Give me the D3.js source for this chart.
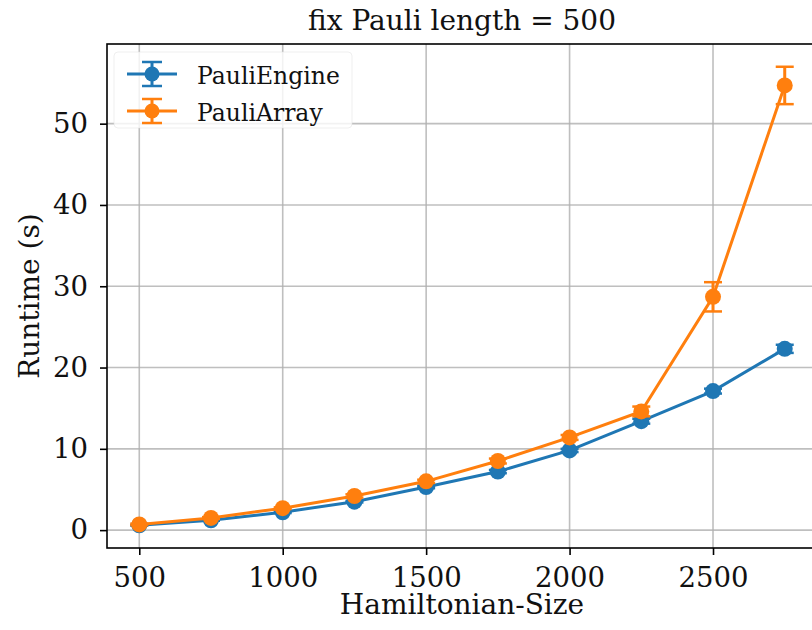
<!DOCTYPE html>
<html><head><meta charset="utf-8">
<script src="https://cdn.jsdelivr.net/npm/d3@7"></script>
<style>body{margin:0;background:#fff;overflow:hidden}svg{display:block}</style>
</head><body>
<svg id="c" width="812" height="630"></svg>
<script>
const sizes = [500, 750, 1000, 1250, 1500, 1750, 2000, 2250, 2500, 2750];
const engineMean = [0.6, 1.2, 2.2, 3.5, 5.3, 7.2, 9.8, 13.4, 17.1, 22.3];
const engineErr  = [0.05, 0.05, 0.1, 0.1, 0.15, 0.2, 0.2, 0.3, 0.3, 0.5];
const arrayMean  = [0.7, 1.5, 2.7, 4.2, 6.0, 8.5, 11.4, 14.6, 28.7, 54.7];
const arrayErr   = [0.1, 0.1, 0.1, 0.2, 0.2, 0.3, 0.3, 0.6, 1.8, 2.3];
const xTicks = [500, 1000, 1500, 2000, 2500];
const yTicks = [0, 10, 20, 30, 40, 50];
const seriesNames = ["PauliEngine", "PauliArray"];
const colors = ["#1f77b4", "#ff7f0e"];

const L = 107, T = 44, R = 817, B = 548;
const svg = d3.select("#c");
const x = d3.scaleLinear().domain([387.5, 2862.5]).range([L, R]);
const y = d3.scaleLinear().domain([-2.2, 59.8]).range([B, T]);
const font = "DejaVu Serif, serif";
const txt = "#111";

// grid
const g = svg.append("g");
g.selectAll("line.gx").data(xTicks).join("line")
  .attr("x1", d => x(d)).attr("x2", d => x(d)).attr("y1", T).attr("y2", B)
  .attr("stroke", "#b0b0b0").attr("stroke-width", 1.6).attr("opacity", 0.8);
g.selectAll("line.gy").data(yTicks).join("line")
  .attr("y1", d => y(d)).attr("y2", d => y(d)).attr("x1", L).attr("x2", R)
  .attr("stroke", "#b0b0b0").attr("stroke-width", 1.6).attr("opacity", 0.8);

// series
const series = [
  {name: seriesNames[0], mean: engineMean, err: engineErr, color: colors[0]},
  {name: seriesNames[1], mean: arrayMean, err: arrayErr, color: colors[1]}
];
const line = d3.line().x(d => x(d[0])).y(d => y(d[1]));
series.forEach(s => {
  const pts = sizes.map((v, i) => [v, s.mean[i], s.err[i]]);
  const sg = svg.append("g");
  sg.append("path").datum(pts).attr("d", line).attr("fill", "none")
    .attr("stroke", s.color).attr("stroke-width", 3);
  sg.selectAll("line.eb").data(pts).join("line")
    .attr("x1", d => x(d[0])).attr("x2", d => x(d[0]))
    .attr("y1", d => y(d[1] - d[2])).attr("y2", d => y(d[1] + d[2]))
    .attr("stroke", s.color).attr("stroke-width", 3);
  ["-", "+"].forEach(sign => {
    sg.selectAll("line.cap" + (sign === "+" ? "p" : "m")).data(pts).join("line")
      .attr("x1", d => x(d[0]) - 9).attr("x2", d => x(d[0]) + 9)
      .attr("y1", d => y(sign === "+" ? d[1] + d[2] : d[1] - d[2]))
      .attr("y2", d => y(sign === "+" ? d[1] + d[2] : d[1] - d[2]))
      .attr("stroke", s.color).attr("stroke-width", 2.5);
  });
  sg.selectAll("circle").data(pts).join("circle")
    .attr("cx", d => x(d[0])).attr("cy", d => y(d[1])).attr("r", 8)
    .attr("fill", s.color);
});

// axes
const xAxis = d3.axisBottom(x).tickValues(xTicks).tickFormat(d3.format("d")).tickSize(7).tickPadding(12);
const yAxis = d3.axisLeft(y).tickValues(yTicks).tickFormat(d3.format("d")).tickSize(7).tickPadding(12);
const xa = svg.append("g").attr("transform", `translate(0,${B})`).call(xAxis);
const ya = svg.append("g").attr("transform", `translate(${L},0)`).call(yAxis);
[xa, ya].forEach(a => {
  a.select(".domain").remove();
  a.selectAll(".tick line").attr("stroke", "#000").attr("stroke-width", 1.6);
  a.selectAll(".tick text").attr("font-family", font).attr("font-size", 27.5).attr("fill", txt);
});
// spines
svg.append("rect").attr("x", L).attr("y", T).attr("width", R - L).attr("height", B - T)
  .attr("fill", "none").attr("stroke", "#000").attr("stroke-width", 1.6);

// labels
svg.append("text").attr("x", (L + R) / 2).attr("y", 30).attr("text-anchor", "middle")
  .attr("font-family", font).attr("font-size", 28).attr("fill", txt).text("fix Pauli length = 500");
svg.append("text").attr("x", (L + R) / 2).attr("y", 614).attr("text-anchor", "middle")
  .attr("font-family", font).attr("font-size", 28).attr("fill", txt).text("Hamiltonian-Size");
svg.append("text").attr("transform", `translate(39,${(T + B) / 2}) rotate(-90)`).attr("text-anchor", "middle")
  .attr("font-family", font).attr("font-size", 28).attr("fill", txt).text("Runtime (s)");

// legend
const lg = svg.append("g");
lg.append("rect").attr("x", 114).attr("y", 52).attr("width", 238).attr("height", 76).attr("rx", 4)
  .attr("fill", "#fff").attr("fill-opacity", 0.8).attr("stroke", "#e0e0e0").attr("stroke-opacity", 0.5);
series.forEach((s, i) => {
  const yy = 74 + i * 37;
  lg.append("line").attr("x1", 127).attr("x2", 177).attr("y1", yy).attr("y2", yy)
    .attr("stroke", s.color).attr("stroke-width", 3);
  lg.append("line").attr("x1", 152).attr("x2", 152).attr("y1", yy - 12).attr("y2", yy + 12)
    .attr("stroke", s.color).attr("stroke-width", 3);
  [-12, 12].forEach(o => lg.append("line").attr("x1", 142).attr("x2", 162).attr("y1", yy + o).attr("y2", yy + o)
    .attr("stroke", s.color).attr("stroke-width", 2.5));
  lg.append("circle").attr("cx", 152).attr("cy", yy).attr("r", 7.5).attr("fill", s.color);
  lg.append("text").attr("x", 197).attr("y", yy + 10).attr("font-family", font).attr("font-size", 23.5)
    .attr("fill", txt).text(s.name);
});
</script>
</body></html>
